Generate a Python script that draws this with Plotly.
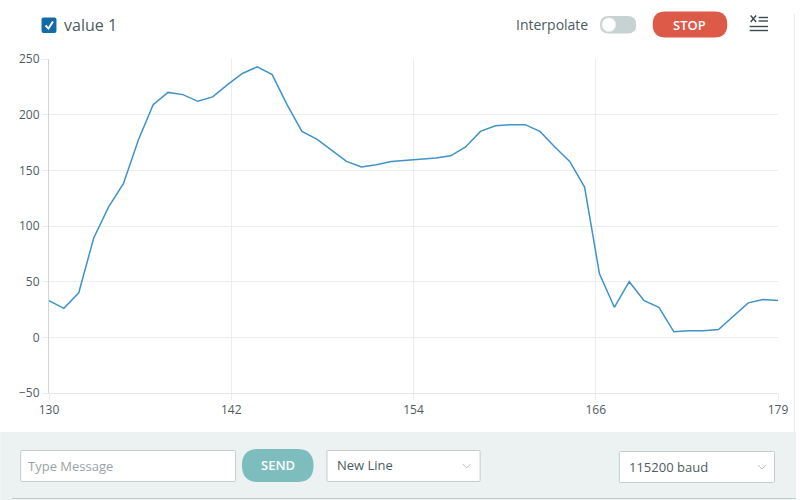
import plotly.graph_objects as go

# sample index and the values of "value 1"
samples = list(range(130, 180))
value_1 = [33, 26, 40, 89, 117, 138, 177, 209, 220, 218,
           212, 216, 227, 237, 243, 236, 209, 185, 178, 168,
           158, 153, 155, 158, 159, 160, 161, 163, 171, 185,
           190, 191, 191, 185, 171, 158, 135, 57, 27, 50,
           33, 27, 5, 6, 6, 7, 19, 31, 34, 33]

x_tick_labels = ["130", "142", "154", "166", "179"]
y_ticks = [-50, 0, 50, 100, 150, 200, 250]

FONT = "Open Sans"
TXT = "#4e5b61"
GRID = "#eceeee"

# plot area in pixels: x 49..782, y 59..393
def px(x):
    return (x - 49) / 733

def py(y):
    return (393 - y) / 334

def pt(x, y):
    return f"{px(x):.5f},{py(y):.5f}"

def rrect(x0, y0, x1, y1, r):
    return (f"M{pt(x0 + r, y0)} L{pt(x1 - r, y0)} Q{pt(x1, y0)} {pt(x1, y0 + r)} "
            f"L{pt(x1, y1 - r)} Q{pt(x1, y1)} {pt(x1 - r, y1)} "
            f"L{pt(x0 + r, y1)} Q{pt(x0, y1)} {pt(x0, y1 - r)} "
            f"L{pt(x0, y0 + r)} Q{pt(x0, y0)} {pt(x0 + r, y0)} Z")

def shape_path(path, fill=None, line=None, width=1):
    return dict(type="path", xref="paper", yref="paper", path=path,
                fillcolor=fill if fill else "rgba(0,0,0,0)",
                line=dict(color=line if line else "rgba(0,0,0,0)", width=width))

def label(text, x, y, size=13, color=TXT, anchor="left", weight=None):
    f = dict(family=FONT, size=size, color=color)
    if weight:
        f["weight"] = weight
    return dict(text=text, x=px(x), y=py(y), xref="paper", yref="paper",
                xanchor=anchor, yanchor="middle", showarrow=False, font=f)

fig = go.Figure()
fig.add_trace(go.Scatter(x=samples, y=value_1, mode="lines",
                         line=dict(color="#3f93c8", width=1.5),
                         hoverinfo="skip", showlegend=False))

tickvals = [130 + i * (179 - 130) / 4 for i in range(5)]

shapes = []
# bottom panel
shapes.append(dict(type="rect", xref="paper", yref="paper",
                   x0=px(0), x1=px(800), y0=py(500), y1=py(432),
                   fillcolor="#ecf1f1", line=dict(width=0), layer="below"))
shapes.append(dict(type="line", xref="paper", yref="paper",
                   x0=px(12), x1=px(800), y0=py(498.5), y1=py(498.5),
                   line=dict(color="#c3cbcb", width=1)))
# right border
shapes.append(dict(type="line", xref="paper", yref="paper",
                   x0=px(798.5), x1=px(798.5), y0=py(14), y1=py(432),
                   line=dict(color="#e6eaea", width=1)))
# checkbox
shapes.append(shape_path(rrect(41.5, 17.5, 56.5, 33, 2), fill="#136aa6"))
shapes.append(shape_path(f"M{pt(45.5, 25.5)} L{pt(48.5, 28.5)} L{pt(53, 21.5)}",
                         line="white", width=2))
# interpolate toggle
shapes.append(shape_path(rrect(603, 16, 639.5, 33.5, 8.75), fill="#c9d2d2"))
shapes.append(dict(type="circle", xref="paper", yref="paper",
                   x0=px(605), x1=px(619), y0=py(31.7), y1=py(17.7),
                   fillcolor="white", line=dict(color="#dfe5e5", width=0.5)))
# stop button
shapes.append(shape_path(rrect(656, 11.5, 731, 37.5, 13), fill="#dd5a48"))
# menu icon
for y0, xa, xb in [(17.5, 762.5, 772), (21, 762.5, 772), (26.5, 753.5, 772), (30.5, 753.5, 772)]:
    shapes.append(dict(type="line", xref="paper", yref="paper",
                       x0=px(xa), x1=px(xb), y0=py(y0), y1=py(y0),
                       line=dict(color="#3d4a50", width=1.4)))
shapes.append(shape_path(f"M{pt(754.5, 15.5)} L{pt(760, 22)} M{pt(760, 15.5)} L{pt(754.5, 22)}",
                         line="#3d4a50", width=1.4))
# message box, send, dropdowns
shapes.append(shape_path(rrect(20.5, 450.5, 236.5, 481.5, 1), fill="white", line="#c6cdcd"))
shapes.append(shape_path(rrect(243, 449, 315, 482, 16.5), fill="#7dbdbd"))
shapes.append(shape_path(rrect(328.5, 450.5, 482.5, 481.5, 1), fill="white", line="#c6cdcd"))
shapes.append(shape_path(rrect(622.5, 451.5, 778.5, 482.5, 1), fill="white", line="#c6cdcd"))
for cx, cy in [(469, 466), (766, 467)]:
    shapes.append(shape_path(f"M{pt(cx - 4, cy - 2)} L{pt(cx, cy + 2)} L{pt(cx + 4, cy - 2)}",
                             line="#b8c2c2", width=1))

annotations = [
    label("value 1", 62, 24.5, size=16),
    label("Interpolate", 593, 25, size=14, anchor="right"),
    label("STOP", 693.5, 24.5, size=13, color="white", anchor="center", weight=600),
    label("Type Message", 26, 466, size=13, color="#9aa4a7"),
    label("SEND", 279, 465.5, size=13, color="white", anchor="center", weight=600),
    label("New Line", 337, 465.5, size=13),
    label("115200 baud", 630, 466.5, size=13),
]

fig.update_layout(
    width=800, height=500,
    margin=dict(l=49, r=18, t=59, b=107),
    paper_bgcolor="white", plot_bgcolor="white",
    font=dict(family=FONT, size=12, color=TXT),
    shapes=shapes, annotations=annotations,
    xaxis=dict(range=[130, 179], tickvals=tickvals, ticktext=x_tick_labels,
               showgrid=True, gridcolor=GRID, gridwidth=1,
               showline=True, linecolor="#e3e7e7", linewidth=1,
               ticks="outside", ticklen=6, tickcolor=GRID,
               zeroline=False, tickfont=dict(size=12, color=TXT)),
    yaxis=dict(range=[-50, 250], tickvals=y_ticks,
               showgrid=True, gridcolor=GRID, gridwidth=1,
               showline=True, linecolor="#cfd6d6", linewidth=1,
               ticks="outside", ticklen=6, tickcolor=GRID,
               zeroline=False, tickfont=dict(size=12, color=TXT)),
)

# the page's default body margin would push the figure 8px off
fig.write_html("out.html", config={"displayModeBar": False},
               post_script="document.body.style.margin='0';document.body.style.overflow='hidden';")
